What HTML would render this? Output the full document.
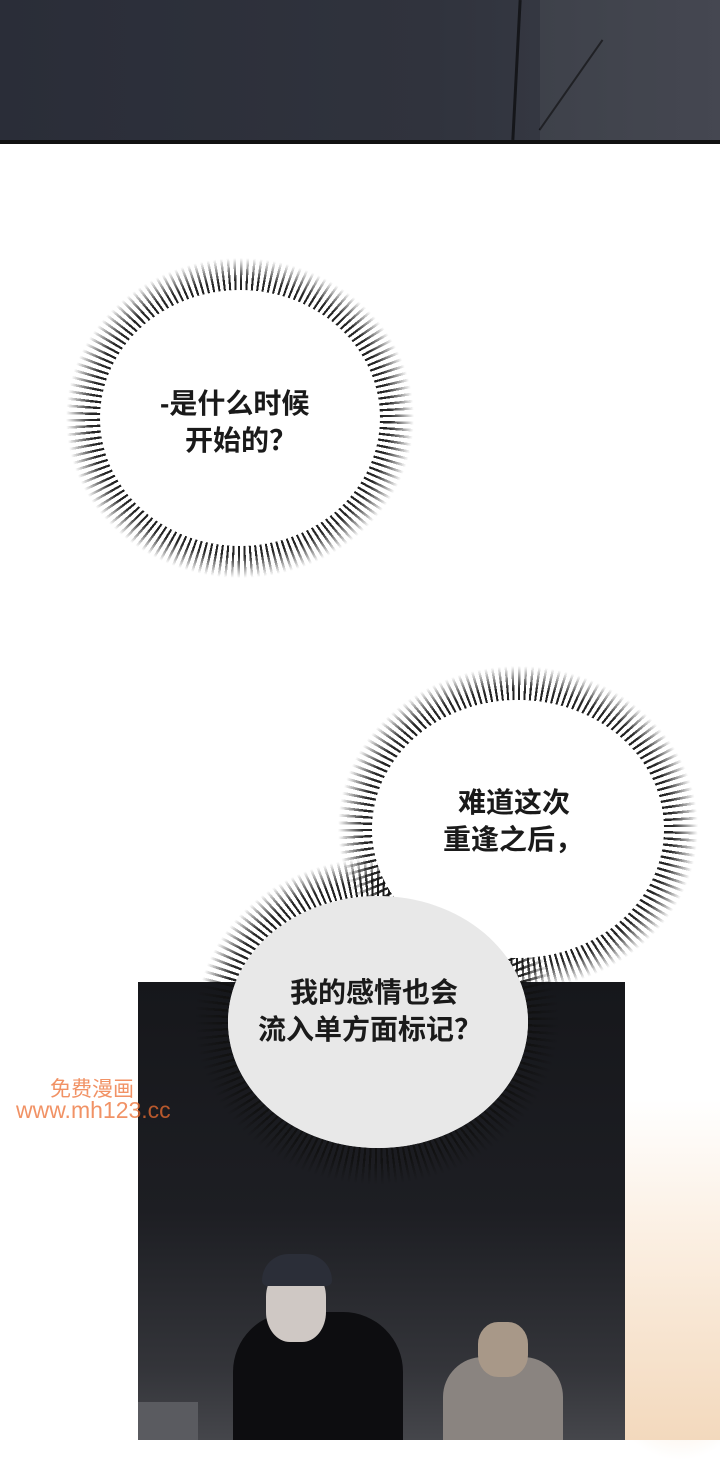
<!DOCTYPE html>
<html><head><meta charset="utf-8"><style>
html,body{margin:0;padding:0;}
body{width:720px;height:1440px;position:relative;overflow:hidden;background:#fff;font-family:"Liberation Sans","Noto Sans CJK SC",sans-serif;}
.top{position:absolute;left:0;top:0;width:720px;height:140px;background:linear-gradient(90deg,#2a2d38 0%,#30333d 60%,#3b3e48 100%);border-bottom:4px solid #111;}
.panel{position:absolute;left:138px;top:982px;width:487px;height:458px;overflow:hidden;background:linear-gradient(180deg,#16171b 0%,#1d1e23 50%,#34353a 85%,#45464b 100%);}
.spk{position:absolute;border-radius:50%;
 background:repeating-conic-gradient(#111 0deg 0.9deg,transparent 0.9deg 2.4deg);
 -webkit-mask:radial-gradient(closest-side,#000 72%,rgba(0,0,0,.9) 86%,transparent 100%);
 mask:radial-gradient(closest-side,#000 72%,rgba(0,0,0,.9) 86%,transparent 100%);}
.inner{position:absolute;border-radius:50%;background:#fff;}
.t{position:absolute;font-size:28px;font-weight:bold;color:#1a1a1a;line-height:37px;white-space:nowrap;}
.wm{position:absolute;color:rgba(236,110,50,0.75);}
.cloud{position:absolute;border-radius:50%;background:radial-gradient(closest-side,#f6e0c8,rgba(246,224,200,0));}
</style></head><body>
<div class="top">
 <div style="position:absolute;left:515px;top:0;width:3px;height:140px;background:#15161a;transform:rotate(3deg)"></div>
 <div style="position:absolute;left:570px;top:30px;width:2px;height:110px;background:#15161a;transform:rotate(35deg)"></div>
 <div style="position:absolute;left:540px;top:0;width:180px;height:140px;background:rgba(255,255,255,0.05)"></div>
</div>

<div class="spk" style="left:66px;top:258px;width:348px;height:320px;"></div>
<div class="inner" style="left:100px;top:290px;width:280px;height:256px;"></div>
<div class="t" style="left:160px;top:385px;">-是什么时候</div>
<div class="t" style="left:185px;top:422px;">开始的？</div>

<div class="cloud" style="left:540px;top:1180px;width:220px;height:160px;"></div>
<div class="cloud" style="left:600px;top:1260px;width:160px;height:200px;"></div>
<div style="position:absolute;left:625px;top:1100px;width:95px;height:340px;background:linear-gradient(180deg,#fff 0%,#fbefe2 40%,#f3d9bd 100%);"></div>

<div class="panel">
 <div style="position:absolute;left:95px;top:330px;width:170px;height:140px;background:#0d0d10;border-radius:60px 60px 0 0;"></div>
 <div style="position:absolute;left:128px;top:285px;width:60px;height:75px;background:#cfc8c4;border-radius:40%;"></div>
 <div style="position:absolute;left:124px;top:272px;width:70px;height:32px;background:#2b2e38;border-radius:30px 30px 6px 6px;"></div>
 <div style="position:absolute;left:305px;top:375px;width:120px;height:90px;background:#8a8480;border-radius:40px 40px 0 0;"></div>
 <div style="position:absolute;left:340px;top:340px;width:50px;height:55px;background:#a89888;border-radius:40%;"></div>
 <div style="position:absolute;left:0;top:420px;width:60px;height:40px;background:#5a5b60;"></div>
</div>

<div class="spk" style="left:196px;top:858px;width:362px;height:326px;"></div>
<div class="inner" style="left:228px;top:896px;width:300px;height:252px;background:#e8e8e8;"></div>

<div class="spk" style="left:338px;top:666px;width:360px;height:324px;"></div>
<div class="inner" style="left:372px;top:700px;width:292px;height:258px;"></div>
<div class="inner" style="left:228px;top:896px;width:300px;height:252px;background:#e8e8e8;"></div>
<div class="inner" style="left:372px;top:700px;width:292px;height:258px;-webkit-mask:linear-gradient(#000 0 75%,transparent 75%);mask:linear-gradient(#000 0 75%,transparent 75%);"></div>

<div class="t" style="left:458px;top:784px;">难道这次</div>
<div class="t" style="left:443px;top:821px;">重逢之后，</div>
<div class="t" style="left:290px;top:974px;">我的感情也会</div>
<div class="t" style="left:258px;top:1011px;">流入单方面标记？</div>

<div class="wm" style="left:50px;top:1073px;font-size:21px;">免费漫画</div>
<div class="wm" style="left:16px;top:1097px;font-size:23px;">www.mh123.cc</div>
</body></html>
